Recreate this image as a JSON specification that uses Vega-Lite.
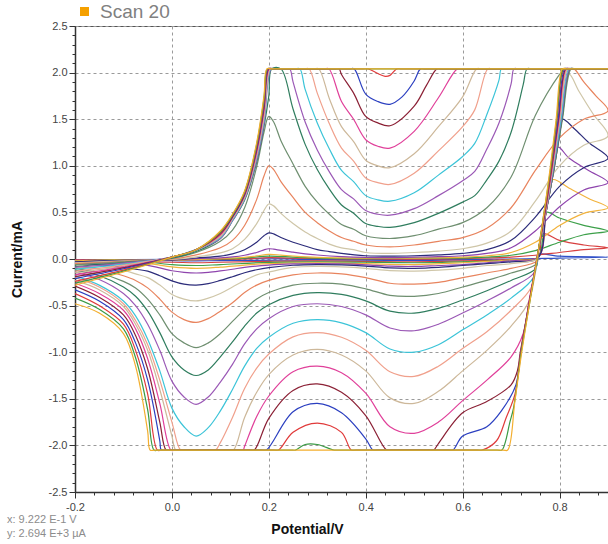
{
"$schema":"https://vega.github.io/schema/vega-lite/v6.json",
"width":533,"height":466,
"autosize":{"type":"none"},
"padding":{"left":75,"top":26,"right":0,"bottom":52},
"title":{"text":"x: 9.222 E-1 V","subtitle":"y: 2.694 E+3 µA","orient":"bottom","anchor":"start","frame":"group","dx":-68,"offset":-22,"font":"Liberation Sans","fontSize":11,"fontWeight":"normal","color":"#8C8C8C","subtitleFont":"Liberation Sans","subtitleFontSize":11,"subtitleColor":"#8C8C8C","subtitlePadding":3},
"config":{
"font":"Liberation Sans",
"view":{"fill":"#F2F2FA","stroke":"#555555","strokeWidth":1},
"axis":{"domainColor":"#333333","domainWidth":1.5,"tickColor":"#333333","gridColor":"#9A9A9A","gridDash":[3,3],"gridWidth":1,"labelFont":"Liberation Sans","labelFontSize":11,"labelColor":"#444444","titleFont":"Liberation Sans","titleFontSize":14,"titleFontWeight":"bold","titleColor":"#111111","labelOverlap":false}
},
"layer":[
{
"data":{"values":[
{"scan":1,"E":-0.2,"I":-0.01},{"scan":1,"E":0,"I":-0.005},{"scan":1,"E":0.2,"I":0.008},{"scan":1,"E":0.3,"I":0},{"scan":1,"E":0.7,"I":0},{"scan":1,"E":0.8,"I":0.01},{"scan":1,"E":0.9,"I":0.02},{"scan":1,"E":0.8,"I":0.03},{"scan":1,"E":0.757,"I":0.05},{"scan":1,"E":0.755,"I":0},{"scan":1,"E":0.7,"I":0},{"scan":1,"E":0.5,"I":-0.015},{"scan":1,"E":0.3,"I":-0.01},{"scan":1,"E":0.1,"I":-0.017},{"scan":1,"E":0.05,"I":-0.02},{"scan":1,"E":0,"I":-0.018},{"scan":1,"E":-0.2,"I":-0.02},
{"scan":2,"E":-0.2,"I":-0.01},{"scan":2,"E":0,"I":-0.01},{"scan":2,"E":0.15,"I":0},{"scan":2,"E":0.2,"I":0.015},{"scan":2,"E":0.25,"I":0.01},{"scan":2,"E":0.4,"I":0},{"scan":2,"E":0.6,"I":0.005},{"scan":2,"E":0.7,"I":0.02},{"scan":2,"E":0.75,"I":0.04},{"scan":2,"E":0.8,"I":0.07},{"scan":2,"E":0.85,"I":0.1},{"scan":2,"E":0.9,"I":0.12},{"scan":2,"E":0.85,"I":0.15},{"scan":2,"E":0.8,"I":0.2},{"scan":2,"E":0.765,"I":0.27},{"scan":2,"E":0.756,"I":0.02},{"scan":2,"E":0.7,"I":-0.005},{"scan":2,"E":0.6,"I":-0.02},{"scan":2,"E":0.5,"I":-0.03},{"scan":2,"E":0.3,"I":-0.02},{"scan":2,"E":0.2,"I":-0.025},{"scan":2,"E":0.1,"I":-0.035},{"scan":2,"E":0.05,"I":-0.04},{"scan":2,"E":0,"I":-0.035},{"scan":2,"E":-0.1,"I":-0.03},{"scan":2,"E":-0.2,"I":-0.03},
{"scan":3,"E":-0.2,"I":-0.02},{"scan":3,"E":-0.1,"I":-0.01},{"scan":3,"E":0,"I":-0.01},{"scan":3,"E":0.1,"I":0},{"scan":3,"E":0.15,"I":0.01},{"scan":3,"E":0.2,"I":0.03},{"scan":3,"E":0.25,"I":0.02},{"scan":3,"E":0.3,"I":0.01},{"scan":3,"E":0.4,"I":0.005},{"scan":3,"E":0.5,"I":0.01},{"scan":3,"E":0.6,"I":0.01},{"scan":3,"E":0.65,"I":0.02},{"scan":3,"E":0.7,"I":0.04},{"scan":3,"E":0.75,"I":0.09},{"scan":3,"E":0.8,"I":0.18},{"scan":3,"E":0.85,"I":0.26},{"scan":3,"E":0.9,"I":0.3},{"scan":3,"E":0.85,"I":0.36},{"scan":3,"E":0.8,"I":0.44},{"scan":3,"E":0.772,"I":0.5},{"scan":3,"E":0.756,"I":0.02},{"scan":3,"E":0.7,"I":-0.01},{"scan":3,"E":0.6,"I":-0.03},{"scan":3,"E":0.5,"I":-0.04},{"scan":3,"E":0.4,"I":-0.035},{"scan":3,"E":0.3,"I":-0.03},{"scan":3,"E":0.2,"I":-0.036},{"scan":3,"E":0.1,"I":-0.06},{"scan":3,"E":0.05,"I":-0.07},{"scan":3,"E":0,"I":-0.06},{"scan":3,"E":-0.05,"I":-0.035},{"scan":3,"E":-0.1,"I":-0.035},{"scan":3,"E":-0.2,"I":-0.03},
{"scan":4,"E":-0.2,"I":-0.02},{"scan":4,"E":-0.1,"I":-0.01},{"scan":4,"E":0,"I":-0.01},{"scan":4,"E":0.1,"I":0.005},{"scan":4,"E":0.15,"I":0.018},{"scan":4,"E":0.175,"I":0.033},{"scan":4,"E":0.2,"I":0.05},{"scan":4,"E":0.225,"I":0.042},{"scan":4,"E":0.25,"I":0.032},{"scan":4,"E":0.3,"I":0.018},{"scan":4,"E":0.4,"I":0.01},{"scan":4,"E":0.5,"I":0.01},{"scan":4,"E":0.6,"I":0.02},{"scan":4,"E":0.65,"I":0.035},{"scan":4,"E":0.7,"I":0.07},{"scan":4,"E":0.75,"I":0.18},{"scan":4,"E":0.8,"I":0.36},{"scan":4,"E":0.85,"I":0.49},{"scan":4,"E":0.9,"I":0.55},{"scan":4,"E":0.86,"I":0.65},{"scan":4,"E":0.82,"I":0.76},{"scan":4,"E":0.785,"I":0.85},{"scan":4,"E":0.772,"I":0.5},{"scan":4,"E":0.756,"I":0.02},{"scan":4,"E":0.7,"I":-0.01},{"scan":4,"E":0.6,"I":-0.04},{"scan":4,"E":0.5,"I":-0.06},{"scan":4,"E":0.4,"I":-0.05},{"scan":4,"E":0.3,"I":-0.04},{"scan":4,"E":0.2,"I":-0.05},{"scan":4,"E":0.15,"I":-0.065},{"scan":4,"E":0.1,"I":-0.087},{"scan":4,"E":0.05,"I":-0.1},{"scan":4,"E":0,"I":-0.084},{"scan":4,"E":-0.05,"I":-0.05},{"scan":4,"E":-0.1,"I":-0.05},{"scan":4,"E":-0.2,"I":-0.04},
{"scan":5,"E":-0.2,"I":-0.03},{"scan":5,"E":-0.1,"I":-0.015},{"scan":5,"E":0,"I":-0.01},{"scan":5,"E":0.05,"I":0.005},{"scan":5,"E":0.1,"I":0.013},{"scan":5,"E":0.125,"I":0.022},{"scan":5,"E":0.15,"I":0.04},{"scan":5,"E":0.175,"I":0.07},{"scan":5,"E":0.19,"I":0.098},{"scan":5,"E":0.2,"I":0.11},{"scan":5,"E":0.21,"I":0.106},{"scan":5,"E":0.225,"I":0.092},{"scan":5,"E":0.25,"I":0.073},{"scan":5,"E":0.275,"I":0.055},{"scan":5,"E":0.3,"I":0.043},{"scan":5,"E":0.35,"I":0.026},{"scan":5,"E":0.4,"I":0.017},{"scan":5,"E":0.45,"I":0.015},{"scan":5,"E":0.5,"I":0.02},{"scan":5,"E":0.55,"I":0.025},{"scan":5,"E":0.6,"I":0.035},{"scan":5,"E":0.65,"I":0.06},{"scan":5,"E":0.7,"I":0.12},{"scan":5,"E":0.75,"I":0.3},{"scan":5,"E":0.8,"I":0.56},{"scan":5,"E":0.85,"I":0.74},{"scan":5,"E":0.9,"I":0.82},{"scan":5,"E":0.86,"I":0.95},{"scan":5,"E":0.82,"I":1.08},{"scan":5,"E":0.797,"I":1.2},{"scan":5,"E":0.788,"I":0.95},{"scan":5,"E":0.772,"I":0.5},{"scan":5,"E":0.756,"I":0.02},{"scan":5,"E":0.7,"I":-0.02},{"scan":5,"E":0.65,"I":-0.04},{"scan":5,"E":0.6,"I":-0.06},{"scan":5,"E":0.55,"I":-0.07},{"scan":5,"E":0.5,"I":-0.08},{"scan":5,"E":0.45,"I":-0.077},{"scan":5,"E":0.4,"I":-0.062},{"scan":5,"E":0.35,"I":-0.053},{"scan":5,"E":0.3,"I":-0.05},{"scan":5,"E":0.25,"I":-0.053},{"scan":5,"E":0.2,"I":-0.065},{"scan":5,"E":0.15,"I":-0.09},{"scan":5,"E":0.125,"I":-0.11},{"scan":5,"E":0.1,"I":-0.128},{"scan":5,"E":0.075,"I":-0.143},{"scan":5,"E":0.05,"I":-0.15},{"scan":5,"E":0.025,"I":-0.143},{"scan":5,"E":0,"I":-0.126},{"scan":5,"E":-0.025,"I":-0.095},{"scan":5,"E":-0.05,"I":-0.068},{"scan":5,"E":-0.1,"I":-0.058},{"scan":5,"E":-0.15,"I":-0.046},{"scan":5,"E":-0.2,"I":-0.04},
{"scan":6,"E":-0.2,"I":-0.03},{"scan":6,"E":-0.1,"I":-0.015},{"scan":6,"E":0,"I":-0.01},{"scan":6,"E":0.05,"I":0.011},{"scan":6,"E":0.1,"I":0.03},{"scan":6,"E":0.125,"I":0.055},{"scan":6,"E":0.15,"I":0.1},{"scan":6,"E":0.175,"I":0.18},{"scan":6,"E":0.19,"I":0.25},{"scan":6,"E":0.2,"I":0.28},{"scan":6,"E":0.21,"I":0.27},{"scan":6,"E":0.225,"I":0.23},{"scan":6,"E":0.25,"I":0.18},{"scan":6,"E":0.275,"I":0.14},{"scan":6,"E":0.3,"I":0.1},{"scan":6,"E":0.325,"I":0.08},{"scan":6,"E":0.35,"I":0.06},{"scan":6,"E":0.4,"I":0.035},{"scan":6,"E":0.45,"I":0.03},{"scan":6,"E":0.5,"I":0.035},{"scan":6,"E":0.55,"I":0.045},{"scan":6,"E":0.6,"I":0.06},{"scan":6,"E":0.65,"I":0.1},{"scan":6,"E":0.7,"I":0.2},{"scan":6,"E":0.75,"I":0.45},{"scan":6,"E":0.8,"I":0.78},{"scan":6,"E":0.85,"I":0.98},{"scan":6,"E":0.9,"I":1.08},{"scan":6,"E":0.86,"I":1.25},{"scan":6,"E":0.83,"I":1.4},{"scan":6,"E":0.805,"I":1.5},{"scan":6,"E":0.788,"I":0.95},{"scan":6,"E":0.772,"I":0.5},{"scan":6,"E":0.755,"I":0.01},{"scan":6,"E":0.7,"I":-0.03},{"scan":6,"E":0.65,"I":-0.05},{"scan":6,"E":0.6,"I":-0.07},{"scan":6,"E":0.55,"I":-0.09},{"scan":6,"E":0.5,"I":-0.1},{"scan":6,"E":0.45,"I":-0.096},{"scan":6,"E":0.4,"I":-0.076},{"scan":6,"E":0.35,"I":-0.064},{"scan":6,"E":0.3,"I":-0.06},{"scan":6,"E":0.25,"I":-0.067},{"scan":6,"E":0.2,"I":-0.093},{"scan":6,"E":0.175,"I":-0.115},{"scan":6,"E":0.15,"I":-0.148},{"scan":6,"E":0.125,"I":-0.19},{"scan":6,"E":0.1,"I":-0.23},{"scan":6,"E":0.075,"I":-0.265},{"scan":6,"E":0.05,"I":-0.28},{"scan":6,"E":0.025,"I":-0.27},{"scan":6,"E":0,"I":-0.235},{"scan":6,"E":-0.025,"I":-0.18},{"scan":6,"E":-0.05,"I":-0.13},{"scan":6,"E":-0.075,"I":-0.11},{"scan":6,"E":-0.1,"I":-0.09},{"scan":6,"E":-0.15,"I":-0.06},{"scan":6,"E":-0.2,"I":-0.05},
{"scan":7,"E":-0.2,"I":-0.04},{"scan":7,"E":-0.1,"I":-0.02},{"scan":7,"E":0,"I":-0.005},{"scan":7,"E":0.05,"I":0.023},{"scan":7,"E":0.1,"I":0.065},{"scan":7,"E":0.125,"I":0.11},{"scan":7,"E":0.15,"I":0.21},{"scan":7,"E":0.175,"I":0.38},{"scan":7,"E":0.19,"I":0.52},{"scan":7,"E":0.2,"I":0.59},{"scan":7,"E":0.21,"I":0.57},{"scan":7,"E":0.225,"I":0.49},{"scan":7,"E":0.25,"I":0.38},{"scan":7,"E":0.275,"I":0.29},{"scan":7,"E":0.3,"I":0.22},{"scan":7,"E":0.325,"I":0.16},{"scan":7,"E":0.35,"I":0.12},{"scan":7,"E":0.375,"I":0.1},{"scan":7,"E":0.4,"I":0.07},{"scan":7,"E":0.45,"I":0.06},{"scan":7,"E":0.5,"I":0.07},{"scan":7,"E":0.55,"I":0.085},{"scan":7,"E":0.6,"I":0.11},{"scan":7,"E":0.65,"I":0.17},{"scan":7,"E":0.7,"I":0.3},{"scan":7,"E":0.75,"I":0.62},{"scan":7,"E":0.8,"I":1},{"scan":7,"E":0.85,"I":1.22},{"scan":7,"E":0.9,"I":1.32},{"scan":7,"E":0.87,"I":1.55},{"scan":7,"E":0.84,"I":1.8},{"scan":7,"E":0.82,"I":1.98},{"scan":7,"E":0.805,"I":1.5},{"scan":7,"E":0.788,"I":0.95},{"scan":7,"E":0.772,"I":0.5},{"scan":7,"E":0.755,"I":0.05},{"scan":7,"E":0.754,"I":0},{"scan":7,"E":0.7,"I":-0.05},{"scan":7,"E":0.65,"I":-0.07},{"scan":7,"E":0.6,"I":-0.1},{"scan":7,"E":0.55,"I":-0.12},{"scan":7,"E":0.5,"I":-0.13},{"scan":7,"E":0.45,"I":-0.125},{"scan":7,"E":0.4,"I":-0.1},{"scan":7,"E":0.35,"I":-0.085},{"scan":7,"E":0.3,"I":-0.08},{"scan":7,"E":0.25,"I":-0.09},{"scan":7,"E":0.2,"I":-0.14},{"scan":7,"E":0.175,"I":-0.17},{"scan":7,"E":0.15,"I":-0.23},{"scan":7,"E":0.125,"I":-0.3},{"scan":7,"E":0.1,"I":-0.37},{"scan":7,"E":0.075,"I":-0.42},{"scan":7,"E":0.05,"I":-0.45},{"scan":7,"E":0.025,"I":-0.43},{"scan":7,"E":0,"I":-0.38},{"scan":7,"E":-0.025,"I":-0.28},{"scan":7,"E":-0.05,"I":-0.2},{"scan":7,"E":-0.075,"I":-0.16},{"scan":7,"E":-0.1,"I":-0.12},{"scan":7,"E":-0.15,"I":-0.08},{"scan":7,"E":-0.2,"I":-0.06},
{"scan":8,"E":-0.2,"I":-0.05},{"scan":8,"E":-0.1,"I":-0.025},{"scan":8,"E":0,"I":0},{"scan":8,"E":0.05,"I":0.044},{"scan":8,"E":0.1,"I":0.12},{"scan":8,"E":0.125,"I":0.2},{"scan":8,"E":0.15,"I":0.36},{"scan":8,"E":0.175,"I":0.64},{"scan":8,"E":0.19,"I":0.89},{"scan":8,"E":0.2,"I":1},{"scan":8,"E":0.21,"I":0.96},{"scan":8,"E":0.225,"I":0.83},{"scan":8,"E":0.25,"I":0.66},{"scan":8,"E":0.275,"I":0.5},{"scan":8,"E":0.3,"I":0.39},{"scan":8,"E":0.325,"I":0.3},{"scan":8,"E":0.35,"I":0.23},{"scan":8,"E":0.375,"I":0.19},{"scan":8,"E":0.4,"I":0.15},{"scan":8,"E":0.45,"I":0.13},{"scan":8,"E":0.5,"I":0.15},{"scan":8,"E":0.55,"I":0.19},{"scan":8,"E":0.6,"I":0.23},{"scan":8,"E":0.65,"I":0.33},{"scan":8,"E":0.7,"I":0.55},{"scan":8,"E":0.75,"I":0.95},{"scan":8,"E":0.8,"I":1.3},{"scan":8,"E":0.85,"I":1.5},{"scan":8,"E":0.9,"I":1.59},{"scan":8,"E":0.875,"I":1.75},{"scan":8,"E":0.85,"I":1.9},{"scan":8,"E":0.83,"I":2.04},{"scan":8,"E":0.822,"I":2.04},{"scan":8,"E":0.805,"I":1.5},{"scan":8,"E":0.788,"I":0.95},{"scan":8,"E":0.772,"I":0.5},{"scan":8,"E":0.755,"I":0.05},{"scan":8,"E":0.754,"I":-0.02},{"scan":8,"E":0.7,"I":-0.1},{"scan":8,"E":0.65,"I":-0.15},{"scan":8,"E":0.6,"I":-0.2},{"scan":8,"E":0.55,"I":-0.25},{"scan":8,"E":0.5,"I":-0.27},{"scan":8,"E":0.45,"I":-0.26},{"scan":8,"E":0.4,"I":-0.2},{"scan":8,"E":0.35,"I":-0.16},{"scan":8,"E":0.3,"I":-0.15},{"scan":8,"E":0.25,"I":-0.17},{"scan":8,"E":0.2,"I":-0.23},{"scan":8,"E":0.175,"I":-0.28},{"scan":8,"E":0.15,"I":-0.36},{"scan":8,"E":0.125,"I":-0.47},{"scan":8,"E":0.1,"I":-0.56},{"scan":8,"E":0.075,"I":-0.64},{"scan":8,"E":0.05,"I":-0.68},{"scan":8,"E":0.025,"I":-0.65},{"scan":8,"E":0,"I":-0.57},{"scan":8,"E":-0.025,"I":-0.43},{"scan":8,"E":-0.05,"I":-0.31},{"scan":8,"E":-0.075,"I":-0.23},{"scan":8,"E":-0.1,"I":-0.18},{"scan":8,"E":-0.15,"I":-0.11},{"scan":8,"E":-0.2,"I":-0.08},
{"scan":9,"E":-0.2,"I":-0.06},{"scan":9,"E":-0.1,"I":-0.03},{"scan":9,"E":0,"I":0.01},{"scan":9,"E":0.05,"I":0.07},{"scan":9,"E":0.1,"I":0.19},{"scan":9,"E":0.125,"I":0.31},{"scan":9,"E":0.15,"I":0.55},{"scan":9,"E":0.175,"I":0.99},{"scan":9,"E":0.19,"I":1.36},{"scan":9,"E":0.2,"I":1.53},{"scan":9,"E":0.21,"I":1.47},{"scan":9,"E":0.225,"I":1.27},{"scan":9,"E":0.25,"I":1.02},{"scan":9,"E":0.275,"I":0.78},{"scan":9,"E":0.3,"I":0.61},{"scan":9,"E":0.325,"I":0.48},{"scan":9,"E":0.35,"I":0.37},{"scan":9,"E":0.375,"I":0.32},{"scan":9,"E":0.4,"I":0.25},{"scan":9,"E":0.45,"I":0.22},{"scan":9,"E":0.5,"I":0.25},{"scan":9,"E":0.55,"I":0.32},{"scan":9,"E":0.6,"I":0.39},{"scan":9,"E":0.65,"I":0.55},{"scan":9,"E":0.7,"I":0.88},{"scan":9,"E":0.75,"I":1.54},{"scan":9,"E":0.8,"I":1.98},{"scan":9,"E":0.81,"I":2.04},{"scan":9,"E":0.82,"I":2.04},{"scan":9,"E":0.9,"I":2.04},{"scan":9,"E":0.834,"I":2.04},{"scan":9,"E":0.824,"I":2.04},{"scan":9,"E":0.806,"I":1.5},{"scan":9,"E":0.788,"I":0.95},{"scan":9,"E":0.772,"I":0.5},{"scan":9,"E":0.755,"I":0.05},{"scan":9,"E":0.753,"I":-0.05},{"scan":9,"E":0.7,"I":-0.15},{"scan":9,"E":0.65,"I":-0.23},{"scan":9,"E":0.6,"I":-0.3},{"scan":9,"E":0.55,"I":-0.37},{"scan":9,"E":0.5,"I":-0.4},{"scan":9,"E":0.45,"I":-0.39},{"scan":9,"E":0.4,"I":-0.32},{"scan":9,"E":0.35,"I":-0.27},{"scan":9,"E":0.3,"I":-0.26},{"scan":9,"E":0.25,"I":-0.28},{"scan":9,"E":0.2,"I":-0.36},{"scan":9,"E":0.175,"I":-0.43},{"scan":9,"E":0.15,"I":-0.54},{"scan":9,"E":0.125,"I":-0.67},{"scan":9,"E":0.1,"I":-0.8},{"scan":9,"E":0.075,"I":-0.9},{"scan":9,"E":0.05,"I":-0.95},{"scan":9,"E":0.025,"I":-0.9},{"scan":9,"E":0,"I":-0.8},{"scan":9,"E":-0.025,"I":-0.6},{"scan":9,"E":-0.05,"I":-0.43},{"scan":9,"E":-0.075,"I":-0.31},{"scan":9,"E":-0.1,"I":-0.24},{"scan":9,"E":-0.15,"I":-0.15},{"scan":9,"E":-0.2,"I":-0.1},
{"scan":10,"E":-0.2,"I":-0.08},{"scan":10,"E":-0.1,"I":-0.04},{"scan":10,"E":0,"I":0.01},{"scan":10,"E":0.05,"I":0.08},{"scan":10,"E":0.1,"I":0.22},{"scan":10,"E":0.125,"I":0.41},{"scan":10,"E":0.15,"I":0.63},{"scan":10,"E":0.175,"I":1.04},{"scan":10,"E":0.19,"I":1.42},{"scan":10,"E":0.2,"I":1.75},{"scan":10,"E":0.206,"I":2.04},{"scan":10,"E":0.225,"I":2.04},{"scan":10,"E":0.25,"I":1.61},{"scan":10,"E":0.275,"I":1.23},{"scan":10,"E":0.3,"I":0.96},{"scan":10,"E":0.325,"I":0.75},{"scan":10,"E":0.35,"I":0.58},{"scan":10,"E":0.375,"I":0.49},{"scan":10,"E":0.4,"I":0.38},{"scan":10,"E":0.425,"I":0.35},{"scan":10,"E":0.45,"I":0.34},{"scan":10,"E":0.5,"I":0.39},{"scan":10,"E":0.55,"I":0.49},{"scan":10,"E":0.6,"I":0.61},{"scan":10,"E":0.625,"I":0.68},{"scan":10,"E":0.65,"I":0.85},{"scan":10,"E":0.675,"I":1.05},{"scan":10,"E":0.7,"I":1.36},{"scan":10,"E":0.725,"I":1.87},{"scan":10,"E":0.733,"I":2.04},{"scan":10,"E":0.743,"I":2.04},{"scan":10,"E":0.9,"I":2.04},{"scan":10,"E":0.832,"I":2.04},{"scan":10,"E":0.822,"I":2.04},{"scan":10,"E":0.805,"I":1.5},{"scan":10,"E":0.788,"I":0.95},{"scan":10,"E":0.772,"I":0.5},{"scan":10,"E":0.755,"I":0.05},{"scan":10,"E":0.751,"I":-0.1},{"scan":10,"E":0.7,"I":-0.23},{"scan":10,"E":0.65,"I":-0.34},{"scan":10,"E":0.6,"I":-0.44},{"scan":10,"E":0.55,"I":-0.53},{"scan":10,"E":0.5,"I":-0.58},{"scan":10,"E":0.45,"I":-0.56},{"scan":10,"E":0.4,"I":-0.45},{"scan":10,"E":0.35,"I":-0.38},{"scan":10,"E":0.3,"I":-0.36},{"scan":10,"E":0.25,"I":-0.39},{"scan":10,"E":0.2,"I":-0.49},{"scan":10,"E":0.175,"I":-0.58},{"scan":10,"E":0.15,"I":-0.72},{"scan":10,"E":0.125,"I":-0.89},{"scan":10,"E":0.1,"I":-1.05},{"scan":10,"E":0.075,"I":-1.19},{"scan":10,"E":0.05,"I":-1.25},{"scan":10,"E":0.025,"I":-1.19},{"scan":10,"E":0,"I":-1.05},{"scan":10,"E":-0.025,"I":-0.79},{"scan":10,"E":-0.05,"I":-0.56},{"scan":10,"E":-0.075,"I":-0.4},{"scan":10,"E":-0.1,"I":-0.3},{"scan":10,"E":-0.15,"I":-0.18},{"scan":10,"E":-0.2,"I":-0.12},
{"scan":11,"E":-0.2,"I":-0.09},{"scan":11,"E":-0.1,"I":-0.045},{"scan":11,"E":0,"I":0.02},{"scan":11,"E":0.05,"I":0.1},{"scan":11,"E":0.1,"I":0.22},{"scan":11,"E":0.125,"I":0.41},{"scan":11,"E":0.15,"I":0.64},{"scan":11,"E":0.175,"I":1.06},{"scan":11,"E":0.19,"I":1.45},{"scan":11,"E":0.205,"I":2.04},{"scan":11,"E":0.215,"I":2.04},{"scan":11,"E":0.233,"I":2.04},{"scan":11,"E":0.243,"I":2.04},{"scan":11,"E":0.25,"I":1.9},{"scan":11,"E":0.275,"I":1.47},{"scan":11,"E":0.3,"I":1.17},{"scan":11,"E":0.325,"I":0.935},{"scan":11,"E":0.35,"I":0.745},{"scan":11,"E":0.375,"I":0.645},{"scan":11,"E":0.4,"I":0.52},{"scan":11,"E":0.425,"I":0.48},{"scan":11,"E":0.45,"I":0.47},{"scan":11,"E":0.5,"I":0.54},{"scan":11,"E":0.55,"I":0.68},{"scan":11,"E":0.6,"I":0.84},{"scan":11,"E":0.625,"I":0.94},{"scan":11,"E":0.65,"I":1.18},{"scan":11,"E":0.675,"I":1.46},{"scan":11,"E":0.7,"I":1.88},{"scan":11,"E":0.706,"I":2.04},{"scan":11,"E":0.716,"I":2.04},{"scan":11,"E":0.9,"I":2.04},{"scan":11,"E":0.831,"I":2.04},{"scan":11,"E":0.821,"I":2.04},{"scan":11,"E":0.804,"I":1.5},{"scan":11,"E":0.787,"I":0.95},{"scan":11,"E":0.772,"I":0.5},{"scan":11,"E":0.755,"I":0.05},{"scan":11,"E":0.747,"I":-0.15},{"scan":11,"E":0.7,"I":-0.31},{"scan":11,"E":0.65,"I":-0.45},{"scan":11,"E":0.6,"I":-0.58},{"scan":11,"E":0.55,"I":-0.7},{"scan":11,"E":0.5,"I":-0.77},{"scan":11,"E":0.45,"I":-0.74},{"scan":11,"E":0.4,"I":-0.6},{"scan":11,"E":0.35,"I":-0.51},{"scan":11,"E":0.3,"I":-0.48},{"scan":11,"E":0.25,"I":-0.51},{"scan":11,"E":0.2,"I":-0.64},{"scan":11,"E":0.175,"I":-0.75},{"scan":11,"E":0.15,"I":-0.91},{"scan":11,"E":0.125,"I":-1.13},{"scan":11,"E":0.1,"I":-1.32},{"scan":11,"E":0.075,"I":-1.48},{"scan":11,"E":0.05,"I":-1.56},{"scan":11,"E":0.025,"I":-1.48},{"scan":11,"E":0,"I":-1.31},{"scan":11,"E":-0.025,"I":-0.98},{"scan":11,"E":-0.05,"I":-0.7},{"scan":11,"E":-0.075,"I":-0.5},{"scan":11,"E":-0.1,"I":-0.37},{"scan":11,"E":-0.15,"I":-0.22},{"scan":11,"E":-0.2,"I":-0.14},
{"scan":12,"E":-0.2,"I":-0.11},{"scan":12,"E":-0.1,"I":-0.055},{"scan":12,"E":0,"I":0.02},{"scan":12,"E":0.05,"I":0.1},{"scan":12,"E":0.1,"I":0.23},{"scan":12,"E":0.125,"I":0.42},{"scan":12,"E":0.15,"I":0.65},{"scan":12,"E":0.175,"I":1.09},{"scan":12,"E":0.19,"I":1.49},{"scan":12,"E":0.204,"I":2.04},{"scan":12,"E":0.214,"I":2.04},{"scan":12,"E":0.254,"I":2.04},{"scan":12,"E":0.264,"I":2.04},{"scan":12,"E":0.275,"I":1.82},{"scan":12,"E":0.3,"I":1.46},{"scan":12,"E":0.325,"I":1.18},{"scan":12,"E":0.35,"I":0.95},{"scan":12,"E":0.375,"I":0.83},{"scan":12,"E":0.4,"I":0.68},{"scan":12,"E":0.425,"I":0.635},{"scan":12,"E":0.45,"I":0.62},{"scan":12,"E":0.5,"I":0.71},{"scan":12,"E":0.55,"I":0.9},{"scan":12,"E":0.6,"I":1.1},{"scan":12,"E":0.625,"I":1.24},{"scan":12,"E":0.65,"I":1.55},{"scan":12,"E":0.675,"I":1.92},{"scan":12,"E":0.68,"I":2.04},{"scan":12,"E":0.69,"I":2.04},{"scan":12,"E":0.9,"I":2.04},{"scan":12,"E":0.829,"I":2.04},{"scan":12,"E":0.819,"I":2.04},{"scan":12,"E":0.803,"I":1.5},{"scan":12,"E":0.786,"I":0.95},{"scan":12,"E":0.771,"I":0.5},{"scan":12,"E":0.755,"I":0.05},{"scan":12,"E":0.746,"I":-0.2},{"scan":12,"E":0.7,"I":-0.42},{"scan":12,"E":0.65,"I":-0.6},{"scan":12,"E":0.6,"I":-0.76},{"scan":12,"E":0.55,"I":-0.92},{"scan":12,"E":0.5,"I":-1},{"scan":12,"E":0.45,"I":-0.965},{"scan":12,"E":0.4,"I":-0.79},{"scan":12,"E":0.35,"I":-0.685},{"scan":12,"E":0.3,"I":-0.65},{"scan":12,"E":0.25,"I":-0.69},{"scan":12,"E":0.2,"I":-0.84},{"scan":12,"E":0.175,"I":-0.96},{"scan":12,"E":0.15,"I":-1.15},{"scan":12,"E":0.125,"I":-1.4},{"scan":12,"E":0.1,"I":-1.63},{"scan":12,"E":0.075,"I":-1.81},{"scan":12,"E":0.05,"I":-1.9},{"scan":12,"E":0.025,"I":-1.8},{"scan":12,"E":0,"I":-1.6},{"scan":12,"E":-0.025,"I":-1.2},{"scan":12,"E":-0.05,"I":-0.86},{"scan":12,"E":-0.075,"I":-0.61},{"scan":12,"E":-0.1,"I":-0.45},{"scan":12,"E":-0.15,"I":-0.28},{"scan":12,"E":-0.2,"I":-0.18},
{"scan":13,"E":-0.2,"I":-0.13},{"scan":13,"E":-0.1,"I":-0.065},{"scan":13,"E":0,"I":0.02},{"scan":13,"E":0.05,"I":0.1},{"scan":13,"E":0.1,"I":0.24},{"scan":13,"E":0.125,"I":0.43},{"scan":13,"E":0.15,"I":0.66},{"scan":13,"E":0.175,"I":1.11},{"scan":13,"E":0.19,"I":1.52},{"scan":13,"E":0.203,"I":2.04},{"scan":13,"E":0.213,"I":2.04},{"scan":13,"E":0.273,"I":2.04},{"scan":13,"E":0.283,"I":2.04},{"scan":13,"E":0.3,"I":1.78},{"scan":13,"E":0.325,"I":1.45},{"scan":13,"E":0.35,"I":1.19},{"scan":13,"E":0.375,"I":1.05},{"scan":13,"E":0.4,"I":0.87},{"scan":13,"E":0.425,"I":0.82},{"scan":13,"E":0.45,"I":0.8},{"scan":13,"E":0.5,"I":0.92},{"scan":13,"E":0.55,"I":1.16},{"scan":13,"E":0.6,"I":1.42},{"scan":13,"E":0.625,"I":1.6},{"scan":13,"E":0.652,"I":2.04},{"scan":13,"E":0.662,"I":2.04},{"scan":13,"E":0.9,"I":2.04},{"scan":13,"E":0.827,"I":2.04},{"scan":13,"E":0.817,"I":2.04},{"scan":13,"E":0.801,"I":1.5},{"scan":13,"E":0.785,"I":0.95},{"scan":13,"E":0.771,"I":0.5},{"scan":13,"E":0.755,"I":0.05},{"scan":13,"E":0.742,"I":-0.3},{"scan":13,"E":0.7,"I":-0.55},{"scan":13,"E":0.65,"I":-0.78},{"scan":13,"E":0.6,"I":-0.96},{"scan":13,"E":0.55,"I":-1.15},{"scan":13,"E":0.5,"I":-1.26},{"scan":13,"E":0.45,"I":-1.21},{"scan":13,"E":0.4,"I":-0.98},{"scan":13,"E":0.35,"I":-0.84},{"scan":13,"E":0.3,"I":-0.79},{"scan":13,"E":0.25,"I":-0.835},{"scan":13,"E":0.2,"I":-1.02},{"scan":13,"E":0.175,"I":-1.17},{"scan":13,"E":0.15,"I":-1.39},{"scan":13,"E":0.125,"I":-1.7},{"scan":13,"E":0.1,"I":-1.97},{"scan":13,"E":0.09,"I":-2.05},{"scan":13,"E":0.08,"I":-2.05},{"scan":13,"E":0.028,"I":-2.05},{"scan":13,"E":0.018,"I":-2.05},{"scan":13,"E":0,"I":-1.75},{"scan":13,"E":-0.025,"I":-1.3},{"scan":13,"E":-0.05,"I":-0.92},{"scan":13,"E":-0.075,"I":-0.66},{"scan":13,"E":-0.1,"I":-0.48},{"scan":13,"E":-0.15,"I":-0.3},{"scan":13,"E":-0.2,"I":-0.2},
{"scan":14,"E":-0.2,"I":-0.15},{"scan":14,"E":-0.1,"I":-0.075},{"scan":14,"E":0,"I":0.02},{"scan":14,"E":0.05,"I":0.1},{"scan":14,"E":0.1,"I":0.25},{"scan":14,"E":0.125,"I":0.44},{"scan":14,"E":0.15,"I":0.67},{"scan":14,"E":0.175,"I":1.13},{"scan":14,"E":0.19,"I":1.55},{"scan":14,"E":0.202,"I":2.04},{"scan":14,"E":0.212,"I":2.04},{"scan":14,"E":0.293,"I":2.04},{"scan":14,"E":0.303,"I":2.04},{"scan":14,"E":0.325,"I":1.72},{"scan":14,"E":0.35,"I":1.42},{"scan":14,"E":0.375,"I":1.26},{"scan":14,"E":0.4,"I":1.06},{"scan":14,"E":0.425,"I":1},{"scan":14,"E":0.45,"I":0.98},{"scan":14,"E":0.5,"I":1.13},{"scan":14,"E":0.55,"I":1.42},{"scan":14,"E":0.6,"I":1.74},{"scan":14,"E":0.629,"I":2.04},{"scan":14,"E":0.639,"I":2.04},{"scan":14,"E":0.9,"I":2.04},{"scan":14,"E":0.826,"I":2.04},{"scan":14,"E":0.816,"I":2.04},{"scan":14,"E":0.8,"I":1.5},{"scan":14,"E":0.785,"I":0.95},{"scan":14,"E":0.77,"I":0.5},{"scan":14,"E":0.755,"I":0.05},{"scan":14,"E":0.737,"I":-0.45},{"scan":14,"E":0.7,"I":-0.72},{"scan":14,"E":0.65,"I":-0.98},{"scan":14,"E":0.6,"I":-1.2},{"scan":14,"E":0.55,"I":-1.42},{"scan":14,"E":0.5,"I":-1.55},{"scan":14,"E":0.45,"I":-1.49},{"scan":14,"E":0.4,"I":-1.2},{"scan":14,"E":0.35,"I":-1.03},{"scan":14,"E":0.3,"I":-0.97},{"scan":14,"E":0.25,"I":-1.03},{"scan":14,"E":0.2,"I":-1.24},{"scan":14,"E":0.175,"I":-1.43},{"scan":14,"E":0.15,"I":-1.7},{"scan":14,"E":0.127,"I":-2.05},{"scan":14,"E":0.117,"I":-2.05},{"scan":14,"E":0.018,"I":-2.05},{"scan":14,"E":0.008,"I":-2.05},{"scan":14,"E":0,"I":-1.9},{"scan":14,"E":-0.025,"I":-1.4},{"scan":14,"E":-0.05,"I":-0.98},{"scan":14,"E":-0.075,"I":-0.7},{"scan":14,"E":-0.1,"I":-0.51},{"scan":14,"E":-0.15,"I":-0.33},{"scan":14,"E":-0.2,"I":-0.23},
{"scan":15,"E":-0.2,"I":-0.17},{"scan":15,"E":-0.1,"I":-0.085},{"scan":15,"E":0,"I":0.02},{"scan":15,"E":0.05,"I":0.1},{"scan":15,"E":0.1,"I":0.26},{"scan":15,"E":0.125,"I":0.445},{"scan":15,"E":0.15,"I":0.68},{"scan":15,"E":0.175,"I":1.145},{"scan":15,"E":0.19,"I":1.585},{"scan":15,"E":0.201,"I":2.04},{"scan":15,"E":0.211,"I":2.04},{"scan":15,"E":0.314,"I":2.04},{"scan":15,"E":0.324,"I":2.04},{"scan":15,"E":0.35,"I":1.69},{"scan":15,"E":0.375,"I":1.5},{"scan":15,"E":0.4,"I":1.28},{"scan":15,"E":0.425,"I":1.21},{"scan":15,"E":0.45,"I":1.19},{"scan":15,"E":0.5,"I":1.37},{"scan":15,"E":0.55,"I":1.73},{"scan":15,"E":0.589,"I":2.04},{"scan":15,"E":0.599,"I":2.04},{"scan":15,"E":0.9,"I":2.04},{"scan":15,"E":0.824,"I":2.04},{"scan":15,"E":0.814,"I":2.04},{"scan":15,"E":0.799,"I":1.5},{"scan":15,"E":0.784,"I":0.95},{"scan":15,"E":0.77,"I":0.5},{"scan":15,"E":0.755,"I":0.05},{"scan":15,"E":0.737,"I":-0.45},{"scan":15,"E":0.725,"I":-0.8},{"scan":15,"E":0.7,"I":-1.05},{"scan":15,"E":0.65,"I":-1.3},{"scan":15,"E":0.6,"I":-1.52},{"scan":15,"E":0.55,"I":-1.75},{"scan":15,"E":0.5,"I":-1.87},{"scan":15,"E":0.45,"I":-1.8},{"scan":15,"E":0.4,"I":-1.44},{"scan":15,"E":0.35,"I":-1.22},{"scan":15,"E":0.3,"I":-1.15},{"scan":15,"E":0.25,"I":-1.21},{"scan":15,"E":0.2,"I":-1.47},{"scan":15,"E":0.175,"I":-1.69},{"scan":15,"E":0.15,"I":-2.01},{"scan":15,"E":0.147,"I":-2.05},{"scan":15,"E":0.137,"I":-2.05},{"scan":15,"E":0.008,"I":-2.05},{"scan":15,"E":-0.002,"I":-2.05},{"scan":15,"E":-0.025,"I":-1.55},{"scan":15,"E":-0.05,"I":-1.07},{"scan":15,"E":-0.075,"I":-0.75},{"scan":15,"E":-0.1,"I":-0.55},{"scan":15,"E":-0.15,"I":-0.37},{"scan":15,"E":-0.2,"I":-0.26},
{"scan":16,"E":-0.2,"I":-0.19},{"scan":16,"E":-0.1,"I":-0.095},{"scan":16,"E":0,"I":0.02},{"scan":16,"E":0.05,"I":0.1},{"scan":16,"E":0.1,"I":0.27},{"scan":16,"E":0.125,"I":0.45},{"scan":16,"E":0.15,"I":0.69},{"scan":16,"E":0.175,"I":1.17},{"scan":16,"E":0.19,"I":1.62},{"scan":16,"E":0.2,"I":2.04},{"scan":16,"E":0.21,"I":2.04},{"scan":16,"E":0.335,"I":2.04},{"scan":16,"E":0.345,"I":2.04},{"scan":16,"E":0.35,"I":1.98},{"scan":16,"E":0.375,"I":1.78},{"scan":16,"E":0.4,"I":1.53},{"scan":16,"E":0.425,"I":1.46},{"scan":16,"E":0.45,"I":1.43},{"scan":16,"E":0.5,"I":1.64},{"scan":16,"E":0.525,"I":1.86},{"scan":16,"E":0.547,"I":2.04},{"scan":16,"E":0.557,"I":2.04},{"scan":16,"E":0.9,"I":2.04},{"scan":16,"E":0.823,"I":2.04},{"scan":16,"E":0.813,"I":2.04},{"scan":16,"E":0.798,"I":1.5},{"scan":16,"E":0.783,"I":0.95},{"scan":16,"E":0.77,"I":0.5},{"scan":16,"E":0.755,"I":0.05},{"scan":16,"E":0.738,"I":-0.45},{"scan":16,"E":0.719,"I":-1},{"scan":16,"E":0.713,"I":-1.2},{"scan":16,"E":0.7,"I":-1.35},{"scan":16,"E":0.65,"I":-1.53},{"scan":16,"E":0.6,"I":-1.65},{"scan":16,"E":0.55,"I":-1.98},{"scan":16,"E":0.54,"I":-2.05},{"scan":16,"E":0.53,"I":-2.05},{"scan":16,"E":0.453,"I":-2.05},{"scan":16,"E":0.443,"I":-2.05},{"scan":16,"E":0.4,"I":-1.68},{"scan":16,"E":0.35,"I":-1.43},{"scan":16,"E":0.3,"I":-1.34},{"scan":16,"E":0.25,"I":-1.41},{"scan":16,"E":0.2,"I":-1.71},{"scan":16,"E":0.17,"I":-2.05},{"scan":16,"E":0.16,"I":-2.05},{"scan":16,"E":-0.002,"I":-2.05},{"scan":16,"E":-0.012,"I":-2.05},{"scan":16,"E":-0.025,"I":-1.75},{"scan":16,"E":-0.05,"I":-1.18},{"scan":16,"E":-0.075,"I":-0.82},{"scan":16,"E":-0.1,"I":-0.6},{"scan":16,"E":-0.15,"I":-0.41},{"scan":16,"E":-0.2,"I":-0.29},
{"scan":17,"E":-0.2,"I":-0.21},{"scan":17,"E":-0.1,"I":-0.105},{"scan":17,"E":0,"I":0.02},{"scan":17,"E":0.05,"I":0.1},{"scan":17,"E":0.1,"I":0.28},{"scan":17,"E":0.125,"I":0.46},{"scan":17,"E":0.15,"I":0.7},{"scan":17,"E":0.175,"I":1.19},{"scan":17,"E":0.19,"I":1.65},{"scan":17,"E":0.199,"I":2.04},{"scan":17,"E":0.209,"I":2.04},{"scan":17,"E":0.366,"I":2.04},{"scan":17,"E":0.376,"I":2.04},{"scan":17,"E":0.4,"I":1.77},{"scan":17,"E":0.425,"I":1.69},{"scan":17,"E":0.45,"I":1.66},{"scan":17,"E":0.475,"I":1.74},{"scan":17,"E":0.5,"I":1.91},{"scan":17,"E":0.513,"I":2.04},{"scan":17,"E":0.523,"I":2.04},{"scan":17,"E":0.9,"I":2.04},{"scan":17,"E":0.821,"I":2.04},{"scan":17,"E":0.811,"I":2.04},{"scan":17,"E":0.797,"I":1.5},{"scan":17,"E":0.782,"I":0.95},{"scan":17,"E":0.769,"I":0.5},{"scan":17,"E":0.755,"I":0.05},{"scan":17,"E":0.738,"I":-0.45},{"scan":17,"E":0.72,"I":-1},{"scan":17,"E":0.71,"I":-1.35},{"scan":17,"E":0.68,"I":-1.63},{"scan":17,"E":0.65,"I":-1.8},{"scan":17,"E":0.6,"I":-1.9},{"scan":17,"E":0.58,"I":-2.05},{"scan":17,"E":0.57,"I":-2.05},{"scan":17,"E":0.425,"I":-2.05},{"scan":17,"E":0.415,"I":-2.05},{"scan":17,"E":0.4,"I":-1.93},{"scan":17,"E":0.35,"I":-1.65},{"scan":17,"E":0.3,"I":-1.55},{"scan":17,"E":0.25,"I":-1.64},{"scan":17,"E":0.195,"I":-2.05},{"scan":17,"E":0.185,"I":-2.05},{"scan":17,"E":-0.012,"I":-2.05},{"scan":17,"E":-0.022,"I":-2.05},{"scan":17,"E":-0.025,"I":-1.95},{"scan":17,"E":-0.05,"I":-1.3},{"scan":17,"E":-0.075,"I":-0.9},{"scan":17,"E":-0.1,"I":-0.65},{"scan":17,"E":-0.15,"I":-0.45},{"scan":17,"E":-0.2,"I":-0.33},
{"scan":18,"E":-0.2,"I":-0.24},{"scan":18,"E":-0.1,"I":-0.12},{"scan":18,"E":0,"I":0.02},{"scan":18,"E":0.05,"I":0.1},{"scan":18,"E":0.1,"I":0.28},{"scan":18,"E":0.125,"I":0.47},{"scan":18,"E":0.15,"I":0.71},{"scan":18,"E":0.175,"I":1.21},{"scan":18,"E":0.19,"I":1.68},{"scan":18,"E":0.198,"I":2.04},{"scan":18,"E":0.208,"I":2.04},{"scan":18,"E":0.395,"I":2.04},{"scan":18,"E":0.405,"I":2.04},{"scan":18,"E":0.425,"I":1.99},{"scan":18,"E":0.44,"I":1.96},{"scan":18,"E":0.45,"I":1.97},{"scan":18,"E":0.464,"I":2.04},{"scan":18,"E":0.474,"I":2.04},{"scan":18,"E":0.9,"I":2.04},{"scan":18,"E":0.819,"I":2.04},{"scan":18,"E":0.809,"I":2.04},{"scan":18,"E":0.795,"I":1.5},{"scan":18,"E":0.782,"I":0.95},{"scan":18,"E":0.769,"I":0.5},{"scan":18,"E":0.755,"I":0.05},{"scan":18,"E":0.738,"I":-0.45},{"scan":18,"E":0.72,"I":-1},{"scan":18,"E":0.708,"I":-1.45},{"scan":18,"E":0.69,"I":-1.7},{"scan":18,"E":0.67,"I":-1.95},{"scan":18,"E":0.64,"I":-2.05},{"scan":18,"E":0.63,"I":-2.05},{"scan":18,"E":0.38,"I":-2.05},{"scan":18,"E":0.37,"I":-2.05},{"scan":18,"E":0.35,"I":-1.86},{"scan":18,"E":0.3,"I":-1.76},{"scan":18,"E":0.25,"I":-1.86},{"scan":18,"E":0.22,"I":-2.05},{"scan":18,"E":0.21,"I":-2.05},{"scan":18,"E":-0.02,"I":-2.05},{"scan":18,"E":-0.03,"I":-2.05},{"scan":18,"E":-0.05,"I":-1.45},{"scan":18,"E":-0.075,"I":-0.98},{"scan":18,"E":-0.1,"I":-0.7},{"scan":18,"E":-0.15,"I":-0.5},{"scan":18,"E":-0.2,"I":-0.37},
{"scan":19,"E":-0.2,"I":-0.26},{"scan":19,"E":-0.1,"I":-0.13},{"scan":19,"E":0,"I":0.02},{"scan":19,"E":0.05,"I":0.1},{"scan":19,"E":0.1,"I":0.29},{"scan":19,"E":0.125,"I":0.47},{"scan":19,"E":0.15,"I":0.72},{"scan":19,"E":0.175,"I":1.23},{"scan":19,"E":0.19,"I":1.72},{"scan":19,"E":0.197,"I":2.04},{"scan":19,"E":0.207,"I":2.04},{"scan":19,"E":0.9,"I":2.04},{"scan":19,"E":0.818,"I":2.04},{"scan":19,"E":0.808,"I":2.04},{"scan":19,"E":0.794,"I":1.5},{"scan":19,"E":0.781,"I":0.95},{"scan":19,"E":0.768,"I":0.5},{"scan":19,"E":0.755,"I":0.05},{"scan":19,"E":0.739,"I":-0.45},{"scan":19,"E":0.721,"I":-1},{"scan":19,"E":0.705,"I":-1.6},{"scan":19,"E":0.698,"I":-1.74},{"scan":19,"E":0.681,"I":-2.05},{"scan":19,"E":0.671,"I":-2.05},{"scan":19,"E":0.345,"I":-2.05},{"scan":19,"E":0.335,"I":-2.05},{"scan":19,"E":0.3,"I":-1.99},{"scan":19,"E":0.275,"I":-1.99},{"scan":19,"E":0.255,"I":-2.05},{"scan":19,"E":0.245,"I":-2.05},{"scan":19,"E":-0.027,"I":-2.05},{"scan":19,"E":-0.037,"I":-2.05},{"scan":19,"E":-0.05,"I":-1.62},{"scan":19,"E":-0.075,"I":-1.06},{"scan":19,"E":-0.1,"I":-0.75},{"scan":19,"E":-0.15,"I":-0.54},{"scan":19,"E":-0.2,"I":-0.42},
{"scan":20,"E":-0.2,"I":-0.28},{"scan":20,"E":-0.1,"I":-0.14},{"scan":20,"E":0,"I":0.02},{"scan":20,"E":0.05,"I":0.1},{"scan":20,"E":0.1,"I":0.3},{"scan":20,"E":0.125,"I":0.48},{"scan":20,"E":0.15,"I":0.73},{"scan":20,"E":0.175,"I":1.25},{"scan":20,"E":0.19,"I":1.75},{"scan":20,"E":0.196,"I":2.04},{"scan":20,"E":0.206,"I":2.04},{"scan":20,"E":0.9,"I":2.04},{"scan":20,"E":0.816,"I":2.04},{"scan":20,"E":0.806,"I":2.04},{"scan":20,"E":0.793,"I":1.5},{"scan":20,"E":0.78,"I":0.95},{"scan":20,"E":0.768,"I":0.5},{"scan":20,"E":0.755,"I":0.05},{"scan":20,"E":0.739,"I":-0.45},{"scan":20,"E":0.722,"I":-1},{"scan":20,"E":0.708,"I":-1.52},{"scan":20,"E":0.693,"I":-2.05},{"scan":20,"E":0.683,"I":-2.05},{"scan":20,"E":-0.035,"I":-2.05},{"scan":20,"E":-0.045,"I":-2.05},{"scan":20,"E":-0.05,"I":-1.85},{"scan":20,"E":-0.075,"I":-1.15},{"scan":20,"E":-0.1,"I":-0.8},{"scan":20,"E":-0.15,"I":-0.58},{"scan":20,"E":-0.2,"I":-0.48}
]},
"mark":{"type":"line","strokeWidth":1.2,"clip":true,"interpolate":"catmull-rom"},
"encoding":{
"x":{"field":"E","type":"quantitative","scale":{"domain":[-0.2,0.9],"nice":false,"zero":false},
"axis":{"title":"Potential/V","values":[-0.2,-0.16,-0.12,-0.08,-0.04,0,0.04,0.08,0.12,0.16,0.2,0.24,0.28,0.32,0.36,0.4,0.44,0.48,0.52,0.56,0.6,0.64,0.68,0.72,0.76,0.8,0.84,0.88],
"labelExpr":"abs(datum.value*5-round(datum.value*5))<0.001 ? replace(format(datum.value,'.1f'),'\u2212','-') : ''",
"tickSize":{"condition":{"test":"abs(datum.value*5-round(datum.value*5))<0.001","value":6},"value":3},
"gridOpacity":{"condition":{"test":"abs(datum.value*5-round(datum.value*5))<0.001","value":1},"value":0},
"labelFlush":false,"labelPadding":3,"titleX":232,"titlePadding":10}},
"y":{"field":"I","type":"quantitative","scale":{"domain":[-2.5,2.5],"nice":false,"zero":false},
"axis":{"title":"Current/mA","values":[-2.5,-2.4,-2.3,-2.2,-2.1,-2,-1.9,-1.8,-1.7,-1.6,-1.5,-1.4,-1.3,-1.2,-1.1,-1,-0.9,-0.8,-0.7,-0.6,-0.5,-0.4,-0.3,-0.2,-0.1,0,0.1,0.2,0.3,0.4,0.5,0.6,0.7,0.8,0.9,1,1.1,1.2,1.3,1.4,1.5,1.6,1.7,1.8,1.9,2,2.1,2.2,2.3,2.4,2.5],
"labelExpr":"abs(datum.value*2-round(datum.value*2))<0.001 ? replace(format(datum.value,'.1f'),'\u2212','-') : ''",
"tickSize":{"condition":{"test":"abs(datum.value*2-round(datum.value*2))<0.001","value":6},"value":3},
"gridOpacity":{"condition":{"test":"abs(datum.value*2-round(datum.value*2))<0.001","value":1},"value":0},
"labelPadding":2,"titlePadding":24}},
"color":{"field":"scan","type":"nominal","legend":null,
"scale":{"domain":[1,2,3,4,5,6,7,8,9,10,11,12,13,14,15,16,17,18,19,20],
"range":["#3050C8","#D84040","#3DA04A","#F2B33D","#8E44AD","#2C2C7A","#CFC6A8","#E8845E","#6F8F70","#2F7D5E","#9B59B6","#3CC4D8","#F0A08C","#CDB89A","#E0409A","#8B2035","#2B3FC0","#E03A3A","#3A9A44","#F3AE2E"]}},
"order":{"value":null}
}
},
{
"data":{"values":[{"label":"Scan 20"}]},
"mark":{"type":"square","opacity":0},
"encoding":{"fill":{"field":"label","type":"nominal","scale":{"range":["#F5A000"]},
"legend":{"title":null,"orient":"none","legendX":0,"legendY":-24,"symbolType":"square","symbolSize":81,"symbolOpacity":1,"symbolStrokeWidth":0,"labelFontSize":19,"labelColor":"#808080","labelFont":"Liberation Sans","labelOffset":6,"padding":0}}}
}
]
}
